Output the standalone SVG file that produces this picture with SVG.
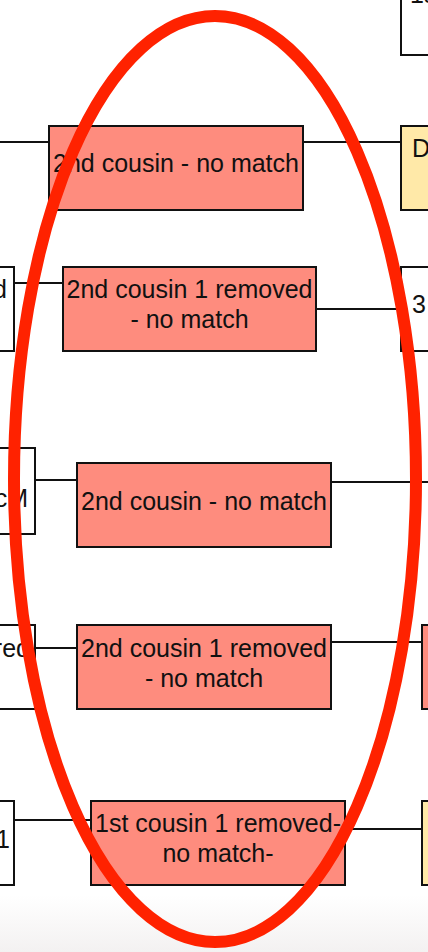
<svg xmlns="http://www.w3.org/2000/svg" width="428" height="952" viewBox="0 0 428 952">
<defs>
<linearGradient id="bg" x1="0" y1="0" x2="0" y2="1">
<stop offset="0" stop-color="#ffffff"/>
<stop offset="1" stop-color="#f3f1f1"/>
</linearGradient>
</defs>
<style>
.box{stroke:#111;stroke-width:2}
.nm{fill:#fe8c7e}
.wh{fill:#ffffff}
.ye{fill:#ffe9a8}
.t{font-family:"Liberation Sans",Arial,sans-serif;font-size:25px;fill:#111}
.c{text-anchor:middle}
.e{text-anchor:end}
.ln{stroke:#111;stroke-width:2;fill:none}
</style>
<rect x="0" y="0" width="428" height="952" fill="#ffffff"/>
<rect x="0" y="895" width="428" height="57" fill="url(#bg)"/>
<g id="connectors">
<line class="ln" x1="0" y1="142" x2="49" y2="142"/>
<line class="ln" x1="303" y1="142" x2="401" y2="142"/>
<line class="ln" x1="14" y1="283" x2="63" y2="283"/>
<line class="ln" x1="316" y1="309" x2="401" y2="309"/>
<line class="ln" x1="35" y1="480" x2="77" y2="480"/>
<line class="ln" x1="331" y1="482" x2="428" y2="482"/>
<line class="ln" x1="35" y1="648" x2="77" y2="648"/>
<line class="ln" x1="331" y1="642" x2="422" y2="642"/>
<line class="ln" x1="14" y1="820" x2="91" y2="820"/>
<line class="ln" x1="345" y1="829" x2="422" y2="829"/>
</g>
<g id="top-right">
<rect class="box wh" x="401" y="-20" width="40" height="75"/>
<text class="t" x="410" y="3">1s</text>
</g>
<g id="yellow-1">
<rect class="box ye" x="401" y="126" width="40" height="84"/>
<text class="t" x="412" y="157">D</text>
</g>
<g id="n1">
<rect class="box nm" x="49" y="126" width="254" height="84"/>
<text class="t c" x="176" y="172">2nd cousin - no match</text>
</g>
<g id="left-2">
<rect class="box wh" x="-30" y="267" width="44" height="84"/>
<text class="t e" x="7" y="298">d</text>
</g>
<g id="n2">
<rect class="box nm" x="63" y="267" width="253" height="84"/>
<text class="t c" x="189.5" y="298">2nd cousin 1 removed</text>
<text class="t c" x="189.5" y="328">- no match</text>
</g>
<g id="right-2">
<rect class="box wh" x="401" y="267" width="40" height="84"/>
<text class="t" x="412" y="313">3</text>
</g>
<g id="left-3">
<rect class="box wh" x="-30" y="448" width="65" height="86"/>
<text class="t e" x="28" y="507">cM</text>
</g>
<g id="n3">
<rect class="box nm" x="77" y="463" width="254" height="84"/>
<text class="t c" x="204" y="510">2nd cousin - no match</text>
</g>
<g id="left-4">
<rect class="box wh" x="-30" y="625" width="65" height="84"/>
<text class="t e" x="30" y="657">red</text>
</g>
<g id="n4">
<rect class="box nm" x="77" y="625" width="254" height="84"/>
<text class="t c" x="204" y="657">2nd cousin 1 removed</text>
<text class="t c" x="204" y="687">- no match</text>
</g>
<g id="right-4">
<rect class="box nm" x="422" y="625" width="30" height="84"/>
</g>
<g id="left-5">
<rect class="box wh" x="-30" y="801" width="44" height="84"/>
<text class="t e" x="10" y="848">1</text>
</g>
<g id="n5">
<rect class="box nm" x="91" y="801" width="254" height="84"/>
<text class="t c" x="218" y="832">1st cousin 1 removed-</text>
<text class="t c" x="218" y="862">no match-</text>
</g>
<g id="right-5">
<rect class="box ye" x="422" y="801" width="30" height="84"/>
</g>
<g id="highlight">
<ellipse cx="215" cy="479" rx="201" ry="463" fill="none" stroke="#ff2200" stroke-width="12"/>
</g>
</svg>
